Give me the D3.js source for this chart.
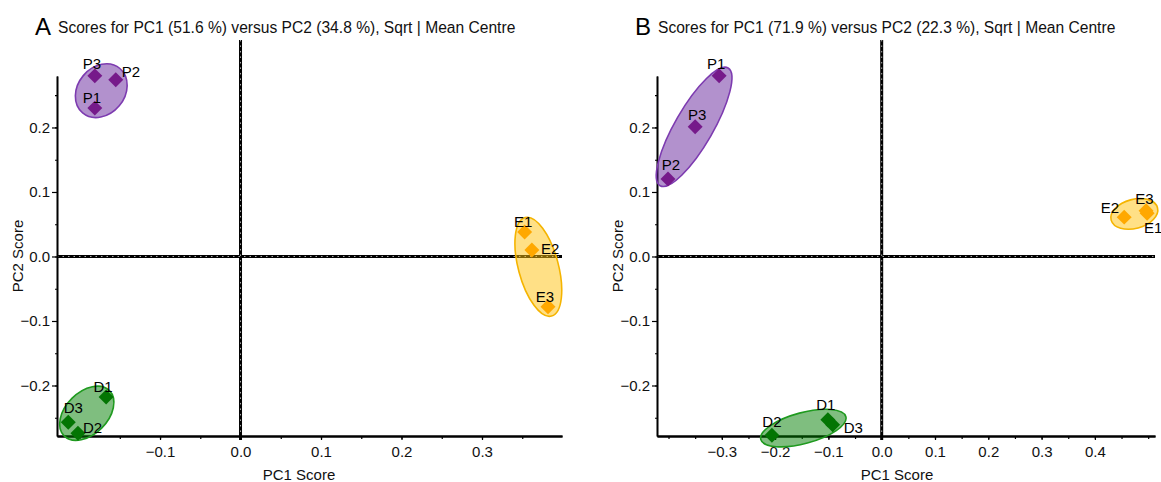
<!DOCTYPE html>
<html>
<head>
<meta charset="utf-8">
<script src="https://cdn.jsdelivr.net/npm/d3@7"></script>
<style>
  html, body { margin: 0; padding: 0; background: #fff; }
  svg { display: block; font-family: "Liberation Sans", Arial, sans-serif; }
</style>
</head>
<body>
<svg id="chart" width="1161" height="482"></svg>
<script>
// ---------- DATA ----------
const sampleNames = ["P1", "P2", "P3", "E1", "E2", "E3", "D1", "D2", "D3"];
const sampleGroups = ["P", "P", "P", "E", "E", "E", "D", "D", "D"];

// Panel A scores
const pc1A = [-0.181, -0.155, -0.181, 0.353, 0.362, 0.382, -0.167, -0.202, -0.214];
const pc2A = [0.230, 0.274, 0.280, 0.038, 0.010, -0.078, -0.218, -0.274, -0.257];
// Panel B scores
const pc1B = [-0.305, -0.401, -0.350, 0.498, 0.455, 0.496, -0.101, -0.206, -0.092];
const pc2B = [0.280, 0.120, 0.201, 0.067, 0.061, 0.071, -0.253, -0.277, -0.261];

// Group ellipses (centre in scores; semi-axes: rx in PC1 units, ry in PC2 units; rotation in degrees)
const ellipseGroups = ["P", "E", "D"];
const ellCxA = [-0.173, 0.370, -0.191];
const ellCyA = [0.257, -0.016, -0.243];
const ellRxA = [0.036, 0.0634, 0.0398];
const ellRyA = [0.0364, 0.031, 0.0326];
const ellRotA = [-50, 75, -45];
const ellCxB = [-0.352, 0.474, -0.147];
const ellCyB = [0.201, 0.066, -0.266];
const ellRxB = [0.1276, 0.045, 0.0826];
const ellRyB = [0.0295, 0.0225, 0.024];
const ellRotB = [-60, -15, -15];

// Axis domains and ticks
const xDomainA = [-0.228, 0.3994];
const xDomainB = [-0.4216, 0.5128];
const yDomain = [-0.2783, 0.2798];
const xTicksA = [-0.1, 0.0, 0.1, 0.2, 0.3];
const xTicksB = [-0.3, -0.2, -0.1, 0.0, 0.1, 0.2, 0.3, 0.4];
const yTicks = [-0.2, -0.1, 0.0, 0.1, 0.2];
const zeroLineExtent = [-0.2845, 0.3357];

const titleA = "Scores for PC1 (51.6 %) versus PC2 (34.8 %), Sqrt | Mean Centre";
const titleB = "Scores for PC1 (71.9 %) versus PC2 (22.3 %), Sqrt | Mean Centre";
const xAxisTitle = "PC1 Score";
const yAxisTitle = "PC2 Score";

// Label placement (styling): [dx, dy, anchor]
const labelPlaceA = [[-3,-5,"middle"],[6,-3,"start"],[-3,-7,"middle"],[-1.5,-5,"middle"],[9,4,"start"],[-3,-5,"middle"],[-3,-5,"middle"],[5,0,"start"],[5,-9,"middle"]];
const labelPlaceB = [[-3,-7,"middle"],[3,-9,"middle"],[2,-7,"middle"],[-3,20,"start"],[-5,-4,"end"],[-1.5,-7,"middle"],[-2,-9.5,"middle"],[0,-8,"middle"],[11,8,"start"]];

// ---------- STYLE ----------
const fillCol = { P: "#65239b", E: "#ffc20e", D: "#007d00" };
const strokeCol = { P: "#7d3bb0", E: "#f5b400", D: "#1f9a1f" };
const markCol = { P: "#761a8a", E: "#ffa800", D: "#037503" };

const svg = d3.select("#chart");

function drawPanel(cfg) {
  const g = svg.append("g");
  const x = d3.scaleLinear().domain(cfg.xDomain).range(cfg.xRange);
  const y = d3.scaleLinear().domain(yDomain).range([436, 76]);

  // zero lines
  const zl = g.append("g");
  const vx = x(0);
  [["#000", 3, null], ["#d8d8d8", 0.8, "1.5,4"]].forEach(([c, w, da]) => {
    zl.append("line").attr("x1", vx).attr("x2", vx)
      .attr("y1", y(zeroLineExtent[1])).attr("y2", y(zeroLineExtent[0]))
      .attr("stroke", c).attr("stroke-width", w).attr("stroke-dasharray", da);
    zl.append("line").attr("x1", x(cfg.xDomain[0])).attr("x2", x(cfg.xDomain[1]))
      .attr("y1", y(0)).attr("y2", y(0))
      .attr("stroke", c).attr("stroke-width", w).attr("stroke-dasharray", da);
  });

  // axes
  const minorX = d3.range(Math.ceil(cfg.xDomain[0] / 0.05), Math.floor(cfg.xDomain[1] / 0.05) + 1).map(i => i * 0.05);
  const minorY = d3.range(Math.ceil(yDomain[0] / 0.05), Math.floor(yDomain[1] / 0.05) + 1).map(i => i * 0.05);

  const xAxis = g.append("g").attr("transform", `translate(0,${y(yDomain[0])})`);
  xAxis.call(d3.axisBottom(x).tickValues(minorX).tickSize(3).tickSizeOuter(0).tickFormat(""));
  xAxis.append("g").call(d3.axisBottom(x).tickValues(cfg.xTicks).tickSize(4).tickSizeOuter(0).tickFormat(d3.format(".1f")));
  xAxis.selectAll("path.domain").attr("stroke", "#000").attr("stroke-width", 2);
  xAxis.selectAll("text").attr("font-size", 15).attr("fill", "#111").attr("y", 10).attr("dy", "0.71em")
    .attr("font-family", '"Liberation Sans", Arial, sans-serif');

  const yAxis = g.append("g").attr("transform", `translate(${x(cfg.xDomain[0])},0)`);
  yAxis.call(d3.axisLeft(y).tickValues(minorY).tickSize(2).tickSizeOuter(0).tickFormat(""));
  yAxis.append("g").call(d3.axisLeft(y).tickValues(yTicks).tickSize(5).tickSizeOuter(0).tickFormat(d3.format(".1f")));
  yAxis.selectAll("path.domain").attr("stroke", "#000").attr("stroke-width", 1.6);
  yAxis.selectAll("text").attr("font-size", 15).attr("fill", "#111").attr("x", -7)
    .attr("font-family", '"Liberation Sans", Arial, sans-serif');
  g.selectAll(".tick line").attr("stroke", "#000").attr("stroke-width", 1.2);

  // axis titles
  g.append("text").attr("x", cfg.xTitleX).attr("y", 480).attr("text-anchor", "middle")
    .attr("font-size", 15).attr("fill", "#111").text(xAxisTitle);
  g.append("text").attr("transform", `translate(${cfg.yTitleX},${(y(yDomain[0]) + y(yDomain[1])) / 2}) rotate(-90)`)
    .attr("text-anchor", "middle").attr("font-size", 15).attr("fill", "#111").text(yAxisTitle);

  // titles
  g.append("text").attr("x", cfg.letterX).attr("y", 35).attr("font-size", 24).attr("fill", "#000").text(cfg.letter);
  g.append("text").attr("x", cfg.letterX + 23).attr("y", 32.5).attr("font-size", 15.6).attr("fill", "#111").text(cfg.title);

  // ellipses
  ellipseGroups.forEach((grp, i) => {
    const cx = x(cfg.ellCx[i]), cy = y(cfg.ellCy[i]);
    const rx = Math.abs(x(cfg.ellCx[i] + cfg.ellRx[i]) - cx);
    const ry = Math.abs(y(cfg.ellCy[i] + cfg.ellRy[i]) - cy);
    g.append("ellipse")
      .attr("transform", `translate(${cx},${cy}) rotate(${cfg.ellRot[i]})`)
      .attr("rx", rx).attr("ry", ry)
      .attr("fill", fillCol[grp]).attr("fill-opacity", 0.5)
      .attr("stroke", strokeCol[grp]).attr("stroke-width", 1.6);
  });

  // markers
  const sym = d3.symbol().type(d3.symbolSquare).size(112);
  sampleNames.forEach((name, i) => {
    g.append("path").attr("d", sym())
      .attr("transform", `translate(${x(cfg.pc1[i])},${y(cfg.pc2[i])}) rotate(45)`)
      .attr("fill", markCol[sampleGroups[i]]);
  });
  sampleNames.forEach((name, i) => {
    const p = cfg.labels[i];
    g.append("text").attr("x", x(cfg.pc1[i]) + p[0]).attr("y", y(cfg.pc2[i]) + p[1])
      .attr("text-anchor", p[2]).attr("font-size", 15).attr("fill", "#000").text(name);
  });
}

drawPanel({
  xDomain: xDomainA, xRange: [57, 562], xTicks: xTicksA, pc1: pc1A, pc2: pc2A,
  ellCx: ellCxA, ellCy: ellCyA, ellRx: ellRxA, ellRy: ellRyA, ellRot: ellRotA,
  labels: labelPlaceA, letter: "A", letterX: 35, title: titleA, xTitleX: 299, yTitleX: 23
});
drawPanel({
  xDomain: xDomainB, xRange: [657, 1155], xTicks: xTicksB, pc1: pc1B, pc2: pc2B,
  ellCx: ellCxB, ellCy: ellCyB, ellRx: ellRxB, ellRy: ellRyB, ellRot: ellRotB,
  labels: labelPlaceB, letter: "B", letterX: 635, title: titleB, xTitleX: 897, yTitleX: 623
});
</script>
</body>
</html>
